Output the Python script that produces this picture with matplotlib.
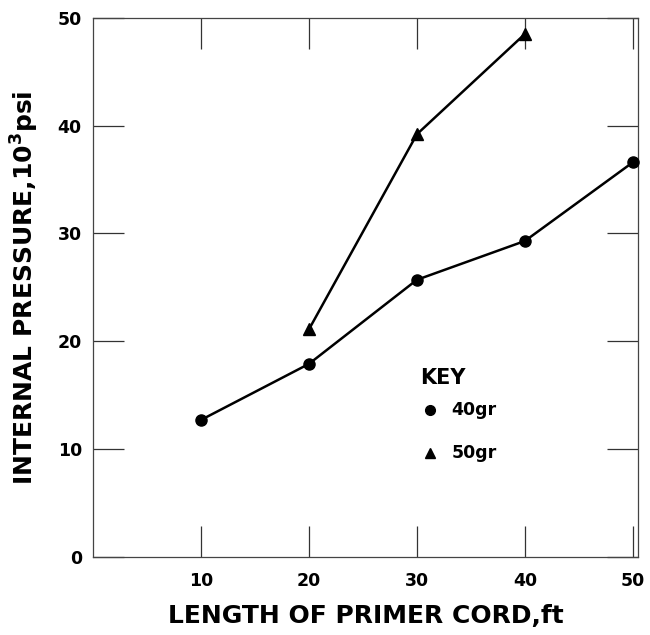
import matplotlib
matplotlib.use("Agg")
import matplotlib.pyplot as plt

length_40 = [10, 20, 30, 40, 50]
pressure_40 = [12.7, 17.9, 25.7, 29.3, 36.6]
length_50 = [20, 30, 40]
pressure_50 = [21.1, 39.2, 48.5]
xticks = [10, 20, 30, 40, 50]
yticks = [0, 10, 20, 30, 40, 50]

plt.rcParams['font.family'] = ['DejaVu Sans']
plt.rcParams['font.weight'] = 'bold'
plt.rcParams['mathtext.fontset'] = 'dejavusans'

fig = plt.figure(figsize=(6.5, 6.35), dpi=100)
ax = fig.add_axes([0.143, 0.123, 0.839, 0.849])

ax.plot(length_40, pressure_40, color='black', lw=1.8, marker='o', ms=8, clip_on=False, zorder=3)
ax.plot(length_50, pressure_50, color='black', lw=1.8, marker='^', ms=8, clip_on=False, zorder=3)

ax.set_xlim(0, 50.5)
ax.set_ylim(0, 50)
ax.set_xticks(xticks)
ax.set_yticks(yticks)
ax.tick_params(axis='both', direction='in', length=22, width=0.9, color='#333333',
               top=True, right=True, labelsize=12.5)
ax.tick_params(axis='x', pad=11)
ax.tick_params(axis='y', pad=8)
for lab in ax.get_xticklabels() + ax.get_yticklabels():
    lab.set_fontweight('bold')
for s in ax.spines.values():
    s.set_linewidth(0.9)
    s.set_color('#444444')

ax.set_xlabel('LENGTH OF PRIMER CORD,ft', fontsize=18, fontweight='bold', labelpad=10)
ax.set_ylabel('INTERNAL PRESSURE,10$^{\\mathbf{3}}$psi', fontsize=18, fontweight='bold', labelpad=12)

ax.text(32.4, 16.6, 'KEY', fontsize=15, fontweight='bold', ha='center', va='center')
ax.plot([31.2], [13.6], marker='o', color='black', ms=7, linestyle='none')
ax.text(33.2, 13.6, '40gr', fontsize=12.5, fontweight='bold', ha='left', va='center')
ax.plot([31.2], [9.6], marker='^', color='black', ms=7, linestyle='none')
ax.text(33.2, 9.6, '50gr', fontsize=12.5, fontweight='bold', ha='left', va='center')

fig.savefig('out.png', dpi=100)
